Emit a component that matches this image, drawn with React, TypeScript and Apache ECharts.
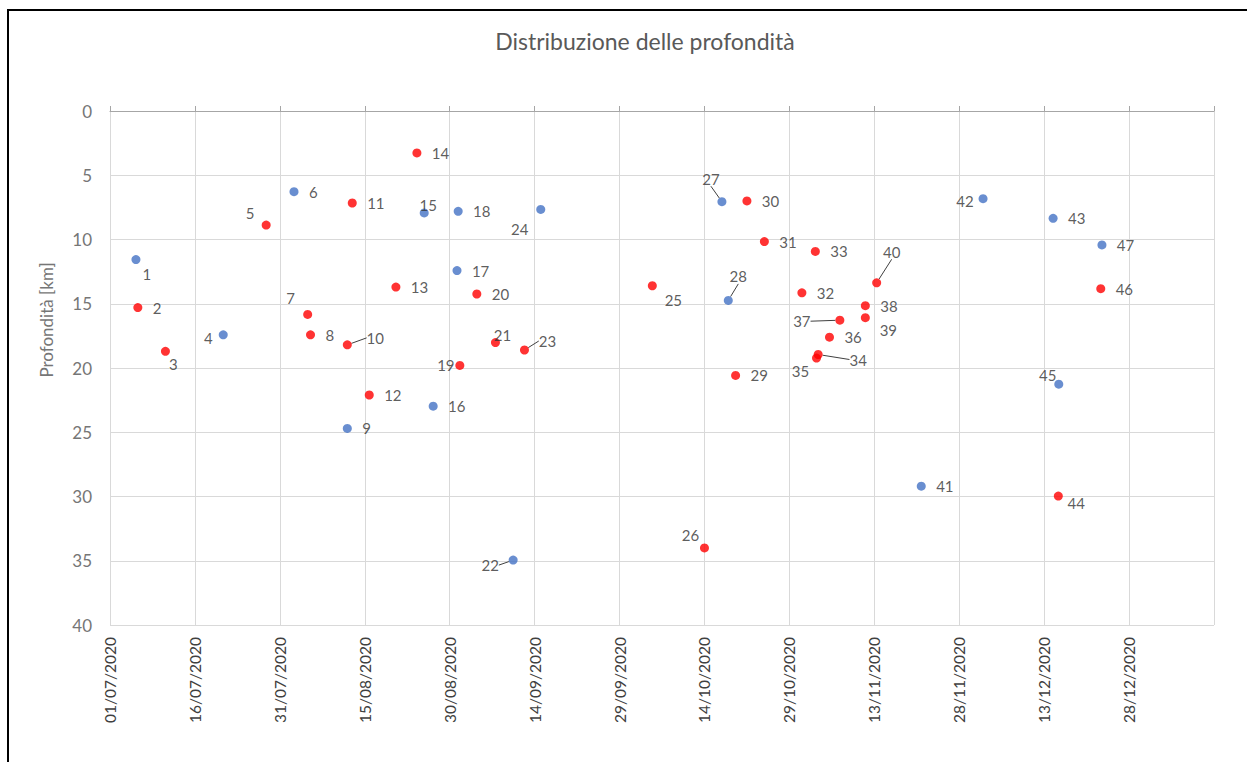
import React, { useEffect, useRef } from 'react';
import * as echarts from 'echarts';

// ---- Texts ----
const chartTitle = 'Distribuzione delle profondità';
const yAxisTitle = 'Profondità [km]';

// ---- Axes ----
const axisStartDate = '2020-07-01 00:00';
const axisSpanDays = 195; // 01/07/2020 -> 12/01/2021
const xTickStepDays = 15;
const depthMin = 0;
const depthMax = 40;
const depthStep = 5;

// ---- Data (one entry per event) ----
const eventNumbers = [
  1, 2, 3, 4, 5, 6, 7, 8, 9, 10, 11, 12, 13, 14, 15, 16, 17, 18, 19, 20, 21, 22, 23, 24,
  25, 26, 27, 28, 29, 30, 31, 32, 33, 34, 35, 36, 37, 38, 39, 40, 41, 42, 43, 44, 45, 46, 47,
];

const eventDates = [
  '2020-07-05 14:00', '2020-07-05 22:00', '2020-07-10 19:00', '2020-07-21 00:00',
  '2020-07-28 14:00', '2020-08-02 12:00', '2020-08-04 22:00', '2020-08-05 10:00',
  '2020-08-11 22:00', '2020-08-11 22:00', '2020-08-12 19:00', '2020-08-15 19:00',
  '2020-08-20 12:00', '2020-08-24 05:00', '2020-08-25 12:00', '2020-08-27 02:00',
  '2020-08-31 07:00', '2020-08-31 12:00', '2020-08-31 19:00', '2020-09-03 19:00',
  '2020-09-07 02:00', '2020-09-10 05:00', '2020-09-12 05:00', '2020-09-15 02:00',
  '2020-10-04 19:00', '2020-10-14 00:00', '2020-10-17 02:00', '2020-10-18 05:00',
  '2020-10-19 12:00', '2020-10-21 12:00', '2020-10-24 14:00', '2020-10-31 05:00',
  '2020-11-02 14:00', '2020-11-03 02:00', '2020-11-02 19:00', '2020-11-05 02:00',
  '2020-11-06 22:00', '2020-11-11 10:00', '2020-11-11 10:00', '2020-11-13 10:00',
  '2020-11-21 07:00', '2020-12-02 05:00', '2020-12-14 14:00', '2020-12-15 12:00',
  '2020-12-15 14:00', '2020-12-23 00:00', '2020-12-23 05:00',
];

const eventDepths = [
  11.56, 15.3, 18.7, 17.42, 8.88, 6.28, 15.83, 17.42, 24.7, 18.2, 7.16, 22.1,
  13.7, 3.26, 7.93, 22.97, 12.42, 7.81, 19.8, 14.24, 18.02, 34.95, 18.6, 7.66,
  13.6, 34.0, 7.06, 14.74, 20.58, 7.0, 10.16, 14.15, 10.93, 18.95, 19.23, 17.6,
  16.28, 15.15, 16.08, 13.37, 29.2, 6.82, 8.35, 29.97, 21.26, 13.83, 10.42,
];

// B = blue group, R = red group
const eventGroups = [
  'B', 'R', 'R', 'B', 'R', 'B', 'R', 'R', 'B', 'R', 'R', 'R',
  'R', 'R', 'B', 'B', 'B', 'B', 'R', 'R', 'R', 'B', 'R', 'B',
  'R', 'R', 'B', 'B', 'R', 'R', 'R', 'R', 'R', 'R', 'R', 'R',
  'R', 'R', 'R', 'R', 'B', 'B', 'B', 'R', 'B', 'R', 'B',
];

// ---- Label placement (style): 'R' = right of the point, [dx, dy] = centre offset, third item 1 = leader line
const labelPlacement: any[] = [
  [11, 14], 'R', [8, 13], [-15, 3], [-16, -12], 'R', [-17, -16], 'R', 'R', [28, -7, 1], 'R', 'R',
  'R', 'R', [4, -8], 'R', 'R', 'R', [-14, 0], 'R', [7, -8], [-23, 5, 1], [23, -9, 1], [-21, 20],
  [21, 14], [-14, -13], [-11, -23, 1], [10, -24, 1], 'R', 'R', 'R', 'R', 'R', [40, 5, 1], [-16, 13], 'R',
  [-38, 1, 1], 'R', [23, 12], [15, -31, 1], 'R', [-18, 2], 'R', [18, 7], [-11, -9], 'R', 'R',
];

const groupColors: Record<string, string> = { B: '#4472C4', R: '#FF0000' };

function parseUTC(s: string): number {
  const [d, t] = s.split(' ');
  const [Y, M, D] = d.split('-').map(Number);
  const [h, m] = t.split(':').map(Number);
  return Date.UTC(Y, M - 1, D, h, m);
}
const DAY = 86400000;
const startMs = parseUTC(axisStartDate);
const toDays = (s: string) => (parseUTC(s) - startMs) / DAY;
const pad = (n: number) => (n < 10 ? '0' + n : '' + n);
const formatDay = (v: number) => {
  if (v >= axisSpanDays) return '';
  const d = new Date(startMs + v * DAY);
  return pad(d.getUTCDate()) + '/' + pad(d.getUTCMonth() + 1) + '/' + d.getUTCFullYear();
};

const FONT = 'Lato, "Open Sans", sans-serif';

function buildSeriesData(group: string) {
  const out: any[] = [];
  eventNumbers.forEach((num, i) => {
    if (eventGroups[i] !== group) return;
    const p = labelPlacement[i];
    const text = String(num);
    const item: any = {
      name: text,
      value: [toDays(eventDates[i]), eventDepths[i]],
    };
    if (p === 'R') {
      item.label = { offset: [15 + text.length * 4.3, 0] };
    } else {
      item.label = { offset: [p[0], p[1]] };
      if (p[2]) item.labelLine = { show: true };
    }
    out.push(item);
  });
  return out;
}

function makeSeries(group: string) {
  return {
    type: 'scatter',
    name: group,
    xAxisIndex: 0,
    yAxisIndex: 0,
    symbol: 'circle',
    symbolSize: 9,
    itemStyle: { color: groupColors[group] },
    label: {
      show: true,
      position: 'inside',
      formatter: '{b}',
      fontFamily: FONT,
      fontSize: 15,
      color: '#333333',
      textBorderWidth: 0,
      align: 'center',
      verticalAlign: 'middle',
    },
    labelLine: { show: false, lineStyle: { color: '#404040', width: 1 } },
    emphasis: { disabled: true },
    data: buildSeriesData(group),
  };
}

export default function App() {
  const ref = useRef<HTMLDivElement>(null);

  useEffect(() => {
    if (!ref.current) return;
    const chart = echarts.init(ref.current, undefined, { renderer: 'svg' });
    const option: any = {
      animation: false,
      backgroundColor: 'transparent',
      grid: { left: 110, right: 33, top: 111, bottom: 137, outerBoundsMode: 'none' },
      xAxis: [
        {
          type: 'value',
          position: 'bottom',
          min: 0,
          max: axisSpanDays,
          interval: xTickStepDays,
          axisLine: { show: false, onZero: false },
          axisTick: { show: false },
          splitLine: { show: true, lineStyle: { color: '#d9d9d9', width: 1 } },
          axisLabel: {
            rotate: 90,
            margin: 12,
            showMaxLabel: false,
            fontFamily: FONT,
            fontSize: 15.5,
            color: '#404040',
            formatter: (v: number) => formatDay(v),
          },
        },
        {
          type: 'value',
          position: 'top',
          min: 0,
          max: axisSpanDays,
          interval: xTickStepDays,
          axisLine: { show: true, onZero: false, lineStyle: { color: '#a6a6a6', width: 1 } },
          axisTick: { show: true, inside: false, length: 5, lineStyle: { color: '#a6a6a6' } },
          axisLabel: { show: false },
          splitLine: { show: false },
        },
      ],
      yAxis: {
        type: 'value',
        inverse: true,
        min: depthMin,
        max: depthMax,
        interval: depthStep,
        axisLine: { show: true, onZero: false, lineStyle: { color: '#d9d9d9' } },
        axisTick: { show: false },
        splitLine: { show: true, lineStyle: { color: '#d9d9d9', width: 1 } },
        axisLabel: { margin: 18, fontFamily: FONT, fontSize: 17, color: '#767676' },
      },
      graphic: [
        {
          type: 'text',
          x: 645,
          y: 41,
          style: {
            text: chartTitle,
            align: 'center',
            verticalAlign: 'middle',
            fontFamily: FONT,
            fontSize: 23,
            fill: '#595959',
          },
        },
        {
          type: 'text',
          x: 46,
          y: 320,
          rotation: Math.PI / 2,
          style: {
            text: yAxisTitle,
            align: 'center',
            verticalAlign: 'middle',
            fontFamily: FONT,
            fontSize: 17,
            fill: '#767676',
          },
        },
      ],
      series: [makeSeries('B'), makeSeries('R')],
    };
    chart.setOption(option);
    return () => chart.dispose();
  }, []);

  return (
    <div
      style={{
        position: 'fixed',
        left: 0,
        top: 0,
        width: 1247,
        height: 762,
        overflow: 'hidden',
        background: '#ffffff',
      }}
    >
      <div
        style={{
          position: 'absolute',
          left: 7,
          top: 9,
          width: 1400,
          height: 900,
          border: '2px solid #000000',
          boxSizing: 'border-box',
        }}
      />
      <div ref={ref} style={{ position: 'absolute', left: 0, top: 0, width: 1247, height: 762 }} />
    </div>
  );
}
